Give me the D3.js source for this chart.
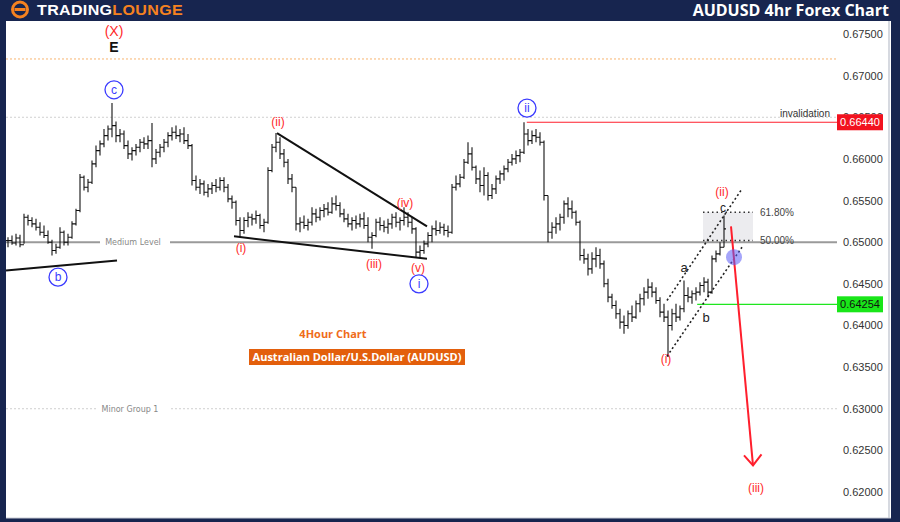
<!DOCTYPE html>
<html>
<head>
<meta charset="utf-8">
<script src="https://cdn.jsdelivr.net/npm/d3@7"></script>
<style>
body {margin: 0; background: #fff;}
svg {display: block; font-family: "Liberation Sans", Arial, sans-serif;}
</style>
</head>
<body>
<script>
// 4h bars (open = previous close)
var highs = [
0.6506,0.6508,0.6510,0.6509,0.6534,0.6533,0.6530,0.6528,0.6524,0.6520,
0.6514,0.6503,0.6498,0.6518,0.6514,0.6510,0.6525,0.6540,0.6582,0.6580,
0.6576,0.6598,0.6616,0.6622,0.6636,0.6640,0.6667,0.6645,0.6636,0.6634,
0.6622,0.6614,0.6618,0.6624,0.6626,0.6628,0.6643,0.6612,0.6618,0.6624,
0.6632,0.6638,0.6640,0.6636,0.6638,0.6630,0.6618,0.6580,0.6576,0.6574,
0.6570,0.6572,0.6576,0.6578,0.6578,0.6570,0.6556,0.6550,0.6530,0.6530,
0.6536,0.6534,0.6538,0.6534,0.6528,0.6590,0.6618,0.6631,0.6626,0.6612,
0.6600,0.6582,0.6566,0.6530,0.6532,0.6528,0.6542,0.6540,0.6542,0.6546,
0.6548,0.6554,0.6556,0.6548,0.6540,0.6534,0.6530,0.6532,0.6534,0.6536,
0.6530,0.6512,0.6528,0.6530,0.6526,0.6528,0.6534,0.6536,0.6530,0.6542,
0.6536,0.6530,0.6518,0.6496,0.6502,0.6512,0.6520,0.6526,0.6524,0.6522,
0.6520,0.6570,0.6580,0.6582,0.6600,0.6620,0.6614,0.6592,0.6586,0.6590,
0.6584,0.6570,0.6580,0.6586,0.6592,0.6600,0.6606,0.6610,0.6612,0.6644,
0.6636,0.6634,0.6636,0.6632,0.6622,0.6556,0.6524,0.6530,0.6534,0.6550,
0.6554,0.6550,0.6538,0.6526,0.6492,0.6486,0.6488,0.6494,0.6492,0.6478,
0.6456,0.6438,0.6430,0.6420,0.6412,0.6418,0.6424,0.6430,0.6438,0.6446,
0.6456,0.6452,0.6446,0.6434,0.6426,0.6418,0.6420,0.6426,0.6424,0.6454,
0.6446,0.6442,0.6446,0.6452,0.6458,0.6456,0.6484,0.6490,0.6500,0.6532];
var lows = [
0.6494,0.6497,0.6496,0.6494,0.6498,0.6520,0.6518,0.6514,0.6508,0.6505,
0.6498,0.6484,0.6486,0.6492,0.6496,0.6496,0.6504,0.6520,0.6536,0.6562,
0.6560,0.6570,0.6590,0.6604,0.6614,0.6622,0.6626,0.6620,0.6620,0.6612,
0.6600,0.6598,0.6604,0.6608,0.6612,0.6612,0.6590,0.6594,0.6602,0.6608,
0.6614,0.6622,0.6624,0.6620,0.6618,0.6612,0.6568,0.6562,0.6558,0.6556,
0.6554,0.6558,0.6560,0.6562,0.6560,0.6548,0.6540,0.6520,0.6506,0.6510,
0.6518,0.6520,0.6522,0.6516,0.6512,0.6522,0.6584,0.6608,0.6600,0.6590,
0.6570,0.6560,0.6514,0.6512,0.6516,0.6514,0.6520,0.6524,0.6526,0.6530,
0.6532,0.6534,0.6538,0.6530,0.6524,0.6518,0.6514,0.6516,0.6518,0.6516,
0.6500,0.6492,0.6506,0.6514,0.6512,0.6510,0.6516,0.6518,0.6514,0.6520,
0.6518,0.6510,0.6482,0.6482,0.6486,0.6494,0.6500,0.6508,0.6510,0.6508,
0.6506,0.6510,0.6562,0.6566,0.6576,0.6594,0.6586,0.6570,0.6560,0.6556,
0.6550,0.6552,0.6558,0.6570,0.6574,0.6584,0.6592,0.6594,0.6596,0.6606,
0.6616,0.6618,0.6620,0.6616,0.6550,0.6500,0.6504,0.6510,0.6514,0.6522,
0.6530,0.6528,0.6520,0.6478,0.6474,0.6460,0.6462,0.6470,0.6468,0.6446,
0.6428,0.6420,0.6408,0.6396,0.6390,0.6396,0.6404,0.6408,0.6416,0.6424,
0.6432,0.6434,0.6426,0.6410,0.6404,0.6362,0.6394,0.6404,0.6406,0.6416,
0.6428,0.6426,0.6430,0.6436,0.6440,0.6434,0.6438,0.6476,0.6484,0.6494];
var closes = [
0.6502,0.6499,0.6505,0.6497,0.6530,0.6526,0.6522,0.6518,0.6512,0.6508,
0.6500,0.6490,0.6494,0.6512,0.6500,0.6506,0.6522,0.6538,0.6578,0.6566,
0.6572,0.6594,0.6610,0.6618,0.6628,0.6636,0.6640,0.6628,0.6630,0.6616,
0.6606,0.6610,0.6614,0.6620,0.6618,0.6622,0.6600,0.6608,0.6614,0.6620,
0.6628,0.6632,0.6628,0.6630,0.6622,0.6616,0.6574,0.6566,0.6570,0.6560,
0.6564,0.6568,0.6566,0.6574,0.6566,0.6552,0.6548,0.6526,0.6514,0.6526,
0.6530,0.6528,0.6532,0.6520,0.6524,0.6586,0.6614,0.6620,0.6606,0.6596,
0.6576,0.6566,0.6522,0.6524,0.6520,0.6524,0.6534,0.6530,0.6538,0.6540,
0.6536,0.6546,0.6544,0.6534,0.6528,0.6522,0.6526,0.6522,0.6528,0.6520,
0.6506,0.6508,0.6524,0.6520,0.6518,0.6522,0.6530,0.6524,0.6526,0.6530,
0.6524,0.6516,0.6488,0.6490,0.6498,0.6508,0.6516,0.6514,0.6518,0.6514,
0.6512,0.6566,0.6570,0.6578,0.6596,0.6606,0.6590,0.6576,0.6568,0.6580,
0.6556,0.6564,0.6576,0.6582,0.6588,0.6596,0.6600,0.6604,0.6608,0.6630,
0.6622,0.6628,0.6626,0.6620,0.6556,0.6512,0.6518,0.6522,0.6530,0.6546,
0.6540,0.6536,0.6524,0.6484,0.6480,0.6468,0.6480,0.6484,0.6474,0.6450,
0.6434,0.6424,0.6414,0.6404,0.6400,0.6414,0.6410,0.6426,0.6432,0.6440,
0.6446,0.6440,0.6430,0.6416,0.6410,0.6400,0.6414,0.6410,0.6420,0.6436,
0.6434,0.6438,0.6440,0.6448,0.6452,0.6440,0.6480,0.6486,0.6494,0.6516];

var yTicks = [0.675, 0.670, 0.665, 0.660, 0.655, 0.650, 0.645, 0.640, 0.635, 0.630, 0.625, 0.620];
var invalidationLevel = 0.6644,
supportLevel = 0.64254,
mediumLevel = 0.65,
minorGroupLevel = 0.63,
orangeLevel = 0.672,
dottedLevel = 0.665,
fibLevels = [0.6536, 0.6502],
fibNames = ["61.80%", "50.00%"];

var W = 900, H = 522,
navy = "#17254f",
red = "#ff2a2a",
blue = "#3b3bff",
plotRight = 837;

var x = d3.scaleLinear().domain([0, closes.length - 1]).range([8, 724]);
var y = d3.scaleLinear().domain([0.62, 0.675]).range([492, 34]);

var svg = d3.select("body").append("svg")
    .attr("width", W)
    .attr("height", H);

// frame
svg.append("rect").attr("width", W).attr("height", H).attr("fill", navy);
svg.append("rect").attr("x", 6).attr("y", 21).attr("width", 885).attr("height", 497).attr("fill", "#fff");
svg.append("line").attr("x1", 889).attr("x2", 889).attr("y1", 21).attr("y2", 518)
    .attr("stroke", "#c9ccd6").attr("stroke-width", 1.5);
svg.append("line").attr("x1", 6).attr("x2", 891).attr("y1", 518).attr("y2", 518)
    .attr("stroke", "#c9ccd6").attr("stroke-width", 1);

// header
var logo = svg.append("g");
logo.append("circle").attr("cx", 20).attr("cy", 9.5).attr("r", 7.5)
    .attr("fill", "none").attr("stroke", "#f58220").attr("stroke-width", 3);
logo.append("rect").attr("x", 14.5).attr("y", 8).attr("width", 11).attr("height", 3).attr("fill", "#f58220");
logo.append("text").attr("x", 37).attr("y", 14.5)
    .attr("font-size", 14).attr("font-weight", "bold").attr("letter-spacing", 0.3)
    .attr("textLength", 146).attr("lengthAdjust", "spacingAndGlyphs")
    .html('<tspan fill="#fff">TRADING</tspan><tspan fill="#f58220">LOUNGE</tspan>');
svg.append("text").attr("x", 889).attr("y", 16)
    .attr("text-anchor", "end").attr("fill", "#fff")
    .attr("font-family", "'Open Sans', sans-serif")
    .attr("font-size", 16).attr("font-weight", "bold")
    .text("AUDUSD 4hr Forex Chart");

// horizontal levels
function hline(level, x1, x2, color, width, dash) {
    return svg.append("line")
        .attr("x1", x1).attr("x2", x2)
        .attr("y1", y(level)).attr("y2", y(level))
        .attr("stroke", color).attr("stroke-width", width)
        .attr("stroke-dasharray", dash);
}
hline(orangeLevel, 6, plotRight, "#f5a04a", 0.8, "2,2");
hline(dottedLevel, 6, plotRight, "#c4c4c4", 0.8, "2,2");
hline(mediumLevel, 6, 100, "#9a9a9a", 2, null);
hline(mediumLevel, 170, plotRight, "#9a9a9a", 2, null);
hline(minorGroupLevel, 6, 96, "#c4c4c4", 0.8, "2,2");
hline(minorGroupLevel, 171, plotRight, "#c4c4c4", 0.8, "2,2");
svg.append("text").attr("x", 133).attr("y", y(mediumLevel)).attr("dy", "0.35em")
    .attr("text-anchor", "middle").attr("font-size", 8).attr("fill", "#888")
    .attr("font-family", "'DejaVu Sans', sans-serif").text("Medium Level");
svg.append("text").attr("x", 130).attr("y", y(minorGroupLevel)).attr("dy", "0.35em")
    .attr("text-anchor", "middle").attr("font-size", 8).attr("fill", "#888")
    .attr("font-family", "'DejaVu Sans', sans-serif").text("Minor Group 1");

hline(invalidationLevel, x(129.7), plotRight, "#ff1f2d", 1.2, null);
hline(supportLevel, x(172.3), plotRight, "#1fe61f", 1.2, null);
svg.append("text").attr("x", 830).attr("y", y(invalidationLevel) - 5)
    .attr("text-anchor", "end").attr("font-size", 10).attr("fill", "#333")
    .text("invalidation");

// fib box
svg.append("rect")
    .attr("x", x(173.75)).attr("width", x(186.25) - x(173.75))
    .attr("y", y(fibLevels[0])).attr("height", y(fibLevels[1]) - y(fibLevels[0]))
    .attr("fill", "#ececef");
fibLevels.forEach(function(f, k) {
    hline(f, x(173.75), x(186.25), "#333", 1.5, "1.5,3");
    svg.append("text").attr("x", 760).attr("y", y(f)).attr("dy", "0.35em")
        .attr("font-size", 10).attr("fill", "#444").text(fibNames[k]);
});

// y axis
var yAxis = svg.append("g")
    .attr("transform", "translate(840,0)")
    .call(d3.axisRight(y).tickValues(yTicks).tickFormat(d3.format(".5f")).tickSize(0));
yAxis.select(".domain").remove();
yAxis.selectAll("text").attr("font-size", 11).attr("fill", "#333")
    .attr("font-family", "'Liberation Sans', Arial, sans-serif");

// price tags
function tag(level, fill, color) {
    svg.append("rect").attr("x", 837).attr("y", y(level) - 8)
        .attr("width", 46).attr("height", 16).attr("fill", fill);
    svg.append("text").attr("x", 860).attr("y", y(level)).attr("dy", "0.36em")
        .attr("text-anchor", "middle").attr("font-size", 11).attr("fill", color)
        .text(d3.format(".5f")(level));
}
tag(invalidationLevel, "#f2121f", "#fff");
tag(supportLevel, "#19e619", "#111");

// wedge / trend lines
function seg(i1, p1, i2, p2, color, width, dash) {
    return svg.append("line")
        .attr("x1", x(i1)).attr("y1", y(p1))
        .attr("x2", x(i2)).attr("y2", y(p2))
        .attr("stroke", color).attr("stroke-width", width)
        .attr("stroke-dasharray", dash);
}
seg(-0.5, 0.6466, 27.25, 0.6478, "#111", 2, null);
seg(67.25, 0.6631, 104.75, 0.6519, "#111", 2, null);
seg(56.5, 0.6507, 104.75, 0.6480, "#111", 2, null);
seg(164.75, 0.6430, 183.5, 0.6564, "#222", 1.6, "2,2.5");
seg(164.75, 0.6363, 183.5, 0.6494, "#222", 1.6, "2,2.5");

// bars
var bars = svg.append("g").attr("stroke", "#111").attr("stroke-width", 1.1);
closes.forEach(function(c, i) {
    var o = i > 0 ? closes[i - 1] : c;
    bars.append("line").attr("x1", x(i)).attr("x2", x(i)).attr("y1", y(highs[i])).attr("y2", y(lows[i]));
    bars.append("line").attr("x1", x(i) - 2).attr("x2", x(i)).attr("y1", y(o)).attr("y2", y(o));
    bars.append("line").attr("x1", x(i)).attr("x2", x(i) + 2).attr("y1", y(c)).attr("y2", y(c));
});

// projection arrow
seg(180.75, 0.6519, 186.25, 0.6232, "#ff1f2d", 2, null);
var tip = [x(186.25), y(0.6232)];
svg.append("path")
    .attr("d", "M" + (tip[0] - 9) + "," + (tip[1] - 10) + "L" + tip[0] + "," + tip[1] + "L" + (tip[0] + 8.5) + "," + (tip[1] - 11))
    .attr("fill", "none").attr("stroke", "#ff1f2d").attr("stroke-width", 2);

svg.append("circle").attr("cx", x(181.5)).attr("cy", y(0.6482)).attr("r", 8)
    .attr("fill", "#5b5bf5").attr("fill-opacity", 0.55);

// wave labels
function label(t, i, p, color, size, weight) {
    svg.append("text").attr("x", x(i)).attr("y", y(p)).attr("dy", "0.35em")
        .attr("text-anchor", "middle").attr("fill", color)
        .attr("font-size", size).attr("font-weight", weight || "normal")
        .text(t);
}
function ring(t, i, p) {
    svg.append("circle").attr("cx", x(i)).attr("cy", y(p)).attr("r", 9)
        .attr("fill", "#fff").attr("stroke", blue).attr("stroke-width", 1.3);
    label(t, i, p, blue, 12);
}
label("(X)", 26.5, 0.67536, red, 14);
label("E", 26.5, 0.6734, "#111", 14, "bold");
ring("c", 26.5, 0.6683);
ring("b", 12.5, 0.6458);
label("(i)", 58.25, 0.6493, red, 12);
label("(ii)", 67.5, 0.6644, red, 12);
label("(iii)", 91.5, 0.6474, red, 12);
label("(iv)", 99.25, 0.6547, red, 12);
label("(v)", 102.5, 0.6469, red, 12);
ring("i", 102.75, 0.6450);
ring("ii", 129.75, 0.6661);
label("(i)", 164.5, 0.6360, red, 12);
label("(ii)", 178.5, 0.6560, red, 12);
label("c", 178.75, 0.6541, "#222", 12);
label("a", 169, 0.6470, "#222", 13);
label("b", 174.5, 0.6410, "#222", 13);
label("(iii)", 187, 0.6205, red, 12);

// chart caption
svg.append("text").attr("x", 333).attr("y", 334).attr("dy", "0.35em")
    .attr("text-anchor", "middle").attr("fill", "#ef6c1a")
    .attr("font-family", "'Open Sans', sans-serif")
    .attr("font-size", 11).attr("font-weight", "bold").text("4Hour Chart");
svg.append("rect").attr("x", 249).attr("y", 349).attr("width", 216).attr("height", 16).attr("fill", "#e35f0c");
svg.append("text").attr("x", 357).attr("y", 357).attr("dy", "0.36em")
    .attr("text-anchor", "middle").attr("fill", "#fff")
    .attr("font-family", "'Open Sans', sans-serif")
    .attr("font-size", 11).attr("font-weight", "bold")
    .text("Australian Dollar/U.S.Dollar (AUDUSD)");
</script>
</body>
</html>
